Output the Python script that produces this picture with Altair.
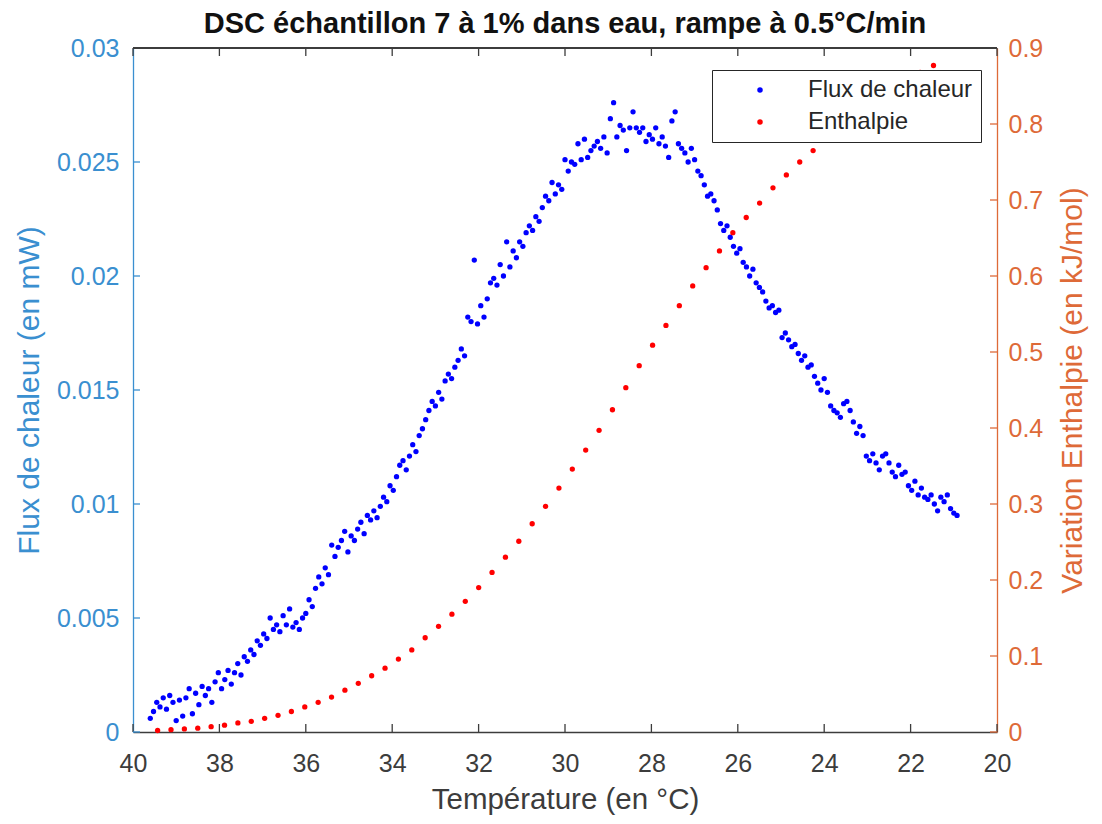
import altair as alt
import pandas as pd
import numpy as np

# ---- data ----
flux_values = [
    0.0006, 0.0009, 0.0013, 0.0011, 0.0015, 0.0010, 0.0016, 0.0013, 0.0005, 0.0014,
    0.0007, 0.0015, 0.0019, 0.0008, 0.0017, 0.0012, 0.0020, 0.0016, 0.0019, 0.0013,
    0.0022, 0.0026, 0.0019, 0.0023, 0.0027, 0.0021, 0.0026, 0.0030, 0.0025, 0.0033,
    0.0031, 0.0036, 0.0034, 0.0040, 0.0038, 0.0043, 0.0041, 0.0050, 0.0045, 0.0047,
    0.0044, 0.0051, 0.0047, 0.0054, 0.0046, 0.0048, 0.0045, 0.0050, 0.0052, 0.0058,
    0.0055, 0.0063, 0.0068, 0.0065, 0.0072, 0.0069, 0.0082, 0.0077, 0.0081, 0.0084,
    0.0088, 0.0079, 0.0086, 0.0084, 0.0089, 0.0092, 0.0087, 0.0095, 0.0093, 0.0097,
    0.0094, 0.0099, 0.0103, 0.0101, 0.0108, 0.0106, 0.0112, 0.0117, 0.0119, 0.0115,
    0.0121, 0.0126, 0.0123, 0.0130, 0.0133, 0.0137, 0.0141, 0.0145, 0.0143, 0.0149,
    0.0146, 0.0154, 0.0157, 0.0155, 0.0160, 0.0163, 0.0168, 0.0165, 0.0182, 0.0180,
    0.0207, 0.0179, 0.0187, 0.0182, 0.0190, 0.0197, 0.0199, 0.0196, 0.0205, 0.0200,
    0.0215, 0.0204, 0.0211, 0.0208, 0.0215, 0.0213, 0.0219, 0.0222, 0.0220, 0.0226,
    0.0224, 0.0230, 0.0235, 0.0233, 0.0241, 0.0236, 0.0240, 0.0238, 0.0251, 0.0246,
    0.0250, 0.0249, 0.0258, 0.0251, 0.0260, 0.0252, 0.0255, 0.0257, 0.0259, 0.0256,
    0.0261, 0.0254, 0.0269, 0.0276, 0.0261, 0.0266, 0.0264, 0.0255, 0.0265, 0.0272,
    0.0265, 0.0263, 0.0265, 0.0259, 0.0262, 0.0260, 0.0265, 0.0258, 0.0261, 0.0257,
    0.0252, 0.0268, 0.0272, 0.0258, 0.0256, 0.0254, 0.0250, 0.0256, 0.0251, 0.0246,
    0.0244, 0.0240, 0.0235, 0.0236, 0.0233, 0.0229, 0.0223, 0.0220, 0.0222, 0.0217,
    0.0213, 0.0210, 0.0212, 0.0206, 0.0204, 0.0200, 0.0203, 0.0197, 0.0195, 0.0193,
    0.0189, 0.0186, 0.0187, 0.0184, 0.0185, 0.0173, 0.0175, 0.0172, 0.0169, 0.0170,
    0.0166, 0.0163, 0.0165, 0.0160, 0.0161, 0.0156, 0.0153, 0.0150, 0.0155, 0.0149,
    0.0143, 0.0141, 0.0140, 0.0138, 0.0144, 0.0145, 0.0141, 0.0136, 0.0131, 0.0134,
    0.0130, 0.0121, 0.0119, 0.0122, 0.0118, 0.0115, 0.0121, 0.0122, 0.0118, 0.0114,
    0.0112, 0.0117, 0.0113, 0.0114, 0.0108, 0.0106, 0.0110, 0.0104, 0.0107, 0.0103,
    0.0102, 0.0104, 0.0100, 0.0097, 0.0103, 0.0101, 0.0104, 0.0098, 0.0096, 0.0095,
]
flux_T_first, flux_T_last = 39.6, 20.925

enth_values = [
    0.002, 0.003, 0.004, 0.005, 0.007, 0.009, 0.012, 0.014, 0.018, 0.022,
    0.027, 0.033, 0.039, 0.046, 0.055, 0.064, 0.074, 0.084, 0.096, 0.108,
    0.124, 0.139, 0.155, 0.172, 0.190, 0.210, 0.230, 0.251, 0.274, 0.297,
    0.321, 0.346, 0.371, 0.397, 0.424, 0.453, 0.482, 0.509, 0.535, 0.561,
    0.587, 0.611, 0.633, 0.657, 0.677, 0.696, 0.716, 0.733, 0.750, 0.765,
    0.782, 0.797, 0.811, 0.824, 0.836, 0.847, 0.858, 0.868, 0.877,
]
enth_T_first, enth_T_last = 39.43, 21.47

series_names = ["Flux de chaleur", "Enthalpie"]
x_ticks = [20, 22, 24, 26, 28, 30, 32, 34, 36, 38, 40]
left_ticks = [0, 0.005, 0.01, 0.015, 0.02, 0.025, 0.03]
right_ticks = [0, 0.1, 0.2, 0.3, 0.4, 0.5, 0.6, 0.7, 0.8, 0.9]

# ---- tables ----
flux_df = pd.DataFrame({
    "T": np.linspace(flux_T_first, flux_T_last, len(flux_values)),
    "v": flux_values,
    "series": series_names[0],
})
enth_df = pd.DataFrame({
    "T": np.linspace(enth_T_first, enth_T_last, len(enth_values)),
    "v": enth_values,
    "series": series_names[1],
})
xt_df = pd.DataFrame({"T": x_ticks})
lt_df = pd.DataFrame({"v": left_ticks})
rt_df = pd.DataFrame({"v": right_ticks})

W, H = 864, 684
FONT = "Liberation Sans"
BLUE_AX = "#3a8fd0"
ORANGE_AX = "#de6a38"
GRAY = "#3c3c3c"
TICK_FS = 25
TITLE_FS = 30

xscale = alt.Scale(domain=[20, 40], reverse=True, nice=False, zero=False)
xaxis = alt.Axis(
    values=x_ticks, format="d", title="Température (en °C)",
    ticks=False, tickSize=0, grid=False, labelFlush=False, labelOverlap=False,
    domainColor=GRAY, domainWidth=1.3, labelColor=GRAY, labelFontSize=TICK_FS,
    labelPadding=19, titleFontSize=29.5, titleColor=GRAY, titleFontWeight="normal",
    titlePadding=9, labelFont=FONT, titleFont=FONT,
)
X = alt.X("T:Q", scale=xscale, axis=xaxis)

yl_scale = alt.Scale(domain=[0, 0.03], nice=False, zero=True)
yr_scale = alt.Scale(domain=[0, 0.9], nice=False, zero=True)

color = alt.Color(
    "series:N",
    scale=alt.Scale(domain=series_names, range=["#0000ff", "#ff0000"]),
    legend=alt.Legend(
        title=None, orient="none", legendX=579, legendY=22, direction="vertical",
        fillColor="white", strokeColor="#262626", padding=8,
        labelFontSize=24, labelColor="#262626", labelFont=FONT, labelLimit=400,
        symbolSize=30, symbolType="circle", symbolOffset=28, labelOffset=36,
        rowPadding=8, symbolStrokeWidth=0,
    ),
)

blue = alt.Chart(flux_df).mark_circle(size=28, opacity=1).encode(
    x=X,
    y=alt.Y("v:Q", scale=yl_scale, axis=alt.Axis(
        orient="left", values=left_ticks, format="~g",
        title="Flux de chaleur (en mW)", ticks=False, tickSize=0, grid=False,
        domainColor=BLUE_AX, domainWidth=1.3, labelColor=BLUE_AX, titleColor=BLUE_AX,
        labelFontSize=TICK_FS, titleFontSize=TITLE_FS, titleFontWeight="normal",
        labelPadding=14, titlePadding=12, labelFont=FONT, titleFont=FONT,
    )),
    color=color,
)

red = alt.Chart(enth_df).mark_circle(size=28, opacity=1).encode(
    x=X,
    y=alt.Y("v:Q", scale=yr_scale, axis=alt.Axis(
        orient="right", values=right_ticks, format="~g",
        title="Variation Enthalpie (en kJ/mol)", ticks=False, tickSize=0, grid=False,
        domainColor=ORANGE_AX, domainWidth=1.3, labelColor=ORANGE_AX, titleColor=ORANGE_AX,
        labelFontSize=TICK_FS, titleFontSize=TITLE_FS, titleFontWeight="normal",
        labelPadding=11, titlePadding=15, titleAngle=270, titleBaseline="top",
        labelFont=FONT, titleFont=FONT,
    )),
    color=color,
)

xticks_bottom = alt.Chart(xt_df).mark_rule(color=GRAY, strokeWidth=1.3).encode(
    x=X, y=alt.value(H), y2=alt.value(H - 8))
xticks_top = alt.Chart(xt_df).mark_rule(color=GRAY, strokeWidth=1.3).encode(
    x=X, y=alt.value(0), y2=alt.value(8))
lticks = alt.Chart(lt_df).mark_rule(color=BLUE_AX, strokeWidth=1.3).encode(
    y=alt.Y("v:Q", scale=yl_scale, axis=None), x=alt.value(0), x2=alt.value(7))
rticks = alt.Chart(rt_df).mark_rule(color=ORANGE_AX, strokeWidth=1.3).encode(
    y=alt.Y("v:Q", scale=yr_scale, axis=None), x=alt.value(W), x2=alt.value(W - 7))
top_border = alt.Chart(xt_df).mark_rule(color=GRAY, strokeWidth=1.3).encode(
    x=alt.value(0), x2=alt.value(W), y=alt.value(0))

chart = alt.layer(
    blue, red, xticks_bottom, xticks_top, lticks, rticks, top_border
).resolve_scale(y="independent").resolve_axis(y="independent").properties(
    width=W, height=H,
    title=alt.TitleParams(
        "DSC échantillon 7 à 1% dans eau, rampe à 0.5°C/min",
        fontSize=29, fontWeight="bold", font=FONT, color="#111111",
        anchor="middle", frame="group", offset=-3,
    ),
    autosize=alt.AutoSizeParams(type="none"),
    padding={"left": 133, "top": 48, "right": 105, "bottom": 92},
).configure_view(stroke=None).configure(background="white")

chart.save("out.html", embed_options={"renderer": "svg", "actions": False})
